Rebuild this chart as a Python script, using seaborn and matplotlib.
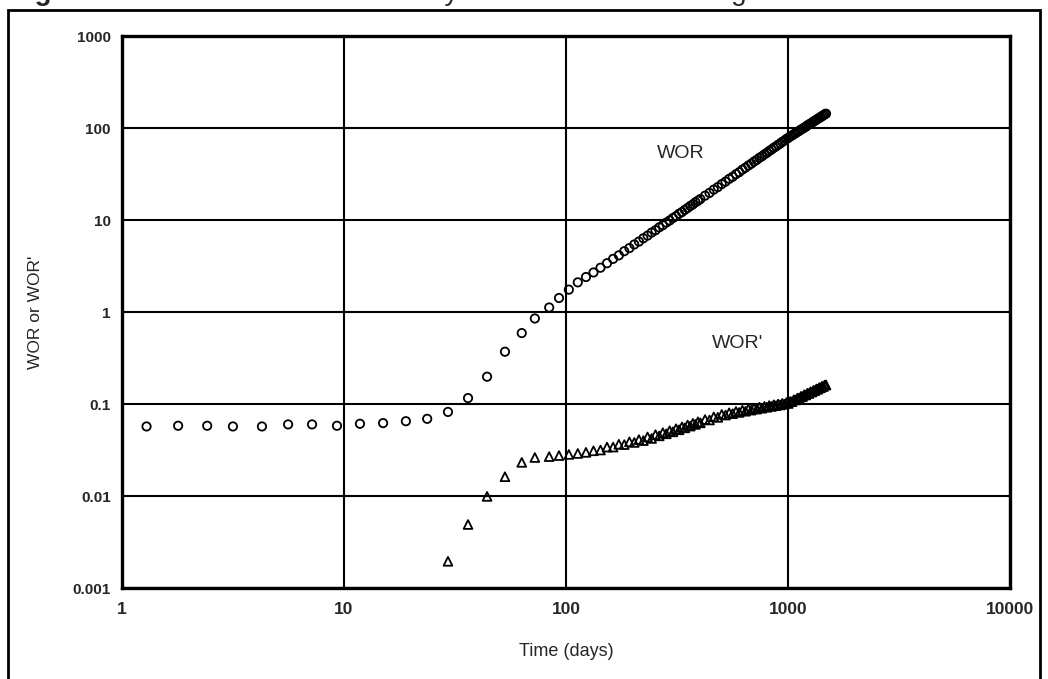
import matplotlib
matplotlib.use("Agg")
import matplotlib.pyplot as plt
import seaborn as sns
import pandas as pd
from matplotlib.patches import Rectangle

# early points (days) - WOR only before water breakthrough
t_early = [1.29, 1.79, 2.42, 3.16, 4.27, 5.6, 7.18, 9.3, 11.8, 15.0, 19.0, 23.7]
wor_early = [0.057, 0.058, 0.058, 0.057, 0.057, 0.060, 0.060, 0.058, 0.061, 0.062, 0.065, 0.069]

# times where both WOR and WOR' are plotted
t_both = [29.4, 36.2, 44.1, 53.1, 63.2, 72.4, 84, 93, 103, 113, 123,
          133, 143, 153, 163, 173, 183, 193, 203, 213, 223, 233, 243, 253, 263, 273, 283, 293,
          303, 313, 323, 333, 343, 353, 363, 373, 383, 393, 403,
          423, 443, 463, 483, 503, 523, 543, 563, 583, 603, 623, 643, 663, 683, 703, 723, 743,
          763, 783, 803, 823, 843, 863, 883, 903, 923, 943, 963, 983, 1003, 1023, 1043, 1063,
          1083, 1103, 1123, 1143, 1163, 1183, 1203, 1223, 1243, 1263, 1283, 1303, 1323, 1343,
          1363, 1383, 1403, 1423, 1443, 1463, 1483]

wor = [0.082, 0.116, 0.198, 0.37, 0.59, 0.85, 1.12, 1.42, 1.75, 2.10, 2.40,
       2.69, 3.03, 3.39, 3.78, 4.13, 4.58, 4.95, 5.42, 5.83, 6.33, 6.77, 7.30, 7.74, 8.32, 8.78, 9.38, 9.88,
       10.5, 11.0, 11.7, 12.2, 12.9, 13.5, 14.2, 14.8, 15.6, 16.2, 16.9,
       18.4, 19.7, 21.4, 22.8, 24.6, 26.1, 28.0, 29.5, 31.5, 33.1, 35.3, 37.0, 39.1, 40.9, 43.2, 45.0, 47.4,
       49.2, 51.7, 53.7, 56.3, 58.3, 61.0, 63.0, 65.8, 67.9, 70.8, 72.8, 75.9, 78.0, 80.9, 82.9, 85.9,
       87.9, 90.9, 93.0, 96.0, 98.2, 101, 103, 107, 109, 112, 114, 118, 120, 123,
       126, 129, 131, 135, 137, 141, 143]

wor_deriv = [0.00195, 0.0049, 0.0099, 0.0162, 0.0232, 0.0262, 0.0268, 0.0275, 0.0283, 0.0290, 0.0298,
             0.0310, 0.0316, 0.0340, 0.0340, 0.0365, 0.0362, 0.0388, 0.0382, 0.0410, 0.0400, 0.0438, 0.0422, 0.0464, 0.0450, 0.0488, 0.0474, 0.0512,
             0.0498, 0.0538, 0.0524, 0.0564, 0.0550, 0.0590, 0.0575, 0.0616, 0.0600, 0.0640, 0.0624,
             0.0678, 0.0670, 0.0724, 0.0716, 0.0770, 0.0758, 0.0802, 0.0785, 0.0830, 0.0810, 0.0856, 0.0834, 0.0880, 0.0858, 0.0901, 0.0880, 0.0922,
             0.0900, 0.0941, 0.0921, 0.0961, 0.0940, 0.0980, 0.0958, 0.0998, 0.0976, 0.1016, 0.0994, 0.1034, 0.1012, 0.1064, 0.1060, 0.1112,
             0.1106, 0.1160, 0.1155, 0.1210, 0.1203, 0.1260, 0.1252, 0.1309, 0.1300, 0.1357, 0.1349, 0.1407, 0.1398, 0.1457,
             0.1449, 0.1507, 0.1498, 0.1557, 0.1548, 0.1605, 0.1610]

x_ticks = [1, 10, 100, 1000, 10000]
x_tick_labels = ["1", "10", "100", "1000", "10000"]
y_ticks = [0.001, 0.01, 0.1, 1, 10, 100, 1000]
y_tick_labels = ["0.001", "0.01", "0.1", "1", "10", "100", "1000"]

df_wor = pd.DataFrame({"Time": t_early + t_both, "WOR": wor_early + wor})
df_der = pd.DataFrame({"Time": t_both, "WORd": wor_deriv})

sns.set_style("whitegrid", {"grid.color": "black", "axes.edgecolor": "black"})
plt.rcParams["font.family"] = ["Liberation Sans", "DejaVu Sans"]

fig = plt.figure(figsize=(10.48, 6.79), dpi=100)
ax = fig.add_axes([122 / 1048, 1 - 588 / 679, 888 / 1048, 552 / 679])

sns.scatterplot(data=df_wor, x="Time", y="WOR", marker="o", s=36,
                facecolors="none", edgecolor="black", linewidth=1.3, ax=ax, zorder=3)
sns.scatterplot(data=df_der, x="Time", y="WORd", marker="^", s=40,
                facecolors="none", edgecolor="black", linewidth=1.3, ax=ax, zorder=3)

ax.set_xscale("log")
ax.set_yscale("log")
ax.set_xlim(1, 10000)
ax.set_ylim(0.001, 1000)
ax.set_xticks(x_ticks)
ax.set_xticklabels(x_tick_labels, fontsize=12.5, fontweight="bold")
ax.set_yticks(y_ticks)
ax.set_yticklabels(y_tick_labels, fontsize=11, fontweight="bold")
ax.minorticks_off()
ax.grid(True, which="major", color="black", linewidth=1.5)
ax.tick_params(axis="y", direction="out", length=5, width=1.2, color="black", pad=3)
ax.tick_params(axis="x", direction="out", length=3, width=1.2, color="black", pad=7)
for sp in ax.spines.values():
    sp.set_linewidth(2.4)
    sp.set_color("black")

ax.set_xlabel("Time (days)", fontsize=13)
ax.set_ylabel("WOR or WOR'", fontsize=12.5)
ax.xaxis.set_label_coords(0.5, -0.1)
ax.yaxis.set_label_coords(-0.089, 0.5)

ax.text(327, 53, "WOR", fontsize=14, ha="center", va="center")
ax.text(592, 0.46, "WOR'", fontsize=14, ha="center", va="center")

# scanned page frame and the cut-off caption above it
fig.patches.append(Rectangle((8 / 1048, -0.05), 1032 / 1048, 1.05 - 10 / 679,
                             transform=fig.transFigure, fill=False,
                             edgecolor="black", linewidth=2))
fig.text(10 / 1048, 1.0, "Figure 9\u2014", fontsize=20, fontweight="bold",
         ha="left", va="baseline")
fig.text(148 / 1048, 1.0, "WOR and WOR' trend by time for a water coning well that shows the cone",
         fontsize=20, ha="left", va="baseline")

plt.savefig("out.png", dpi=100)
